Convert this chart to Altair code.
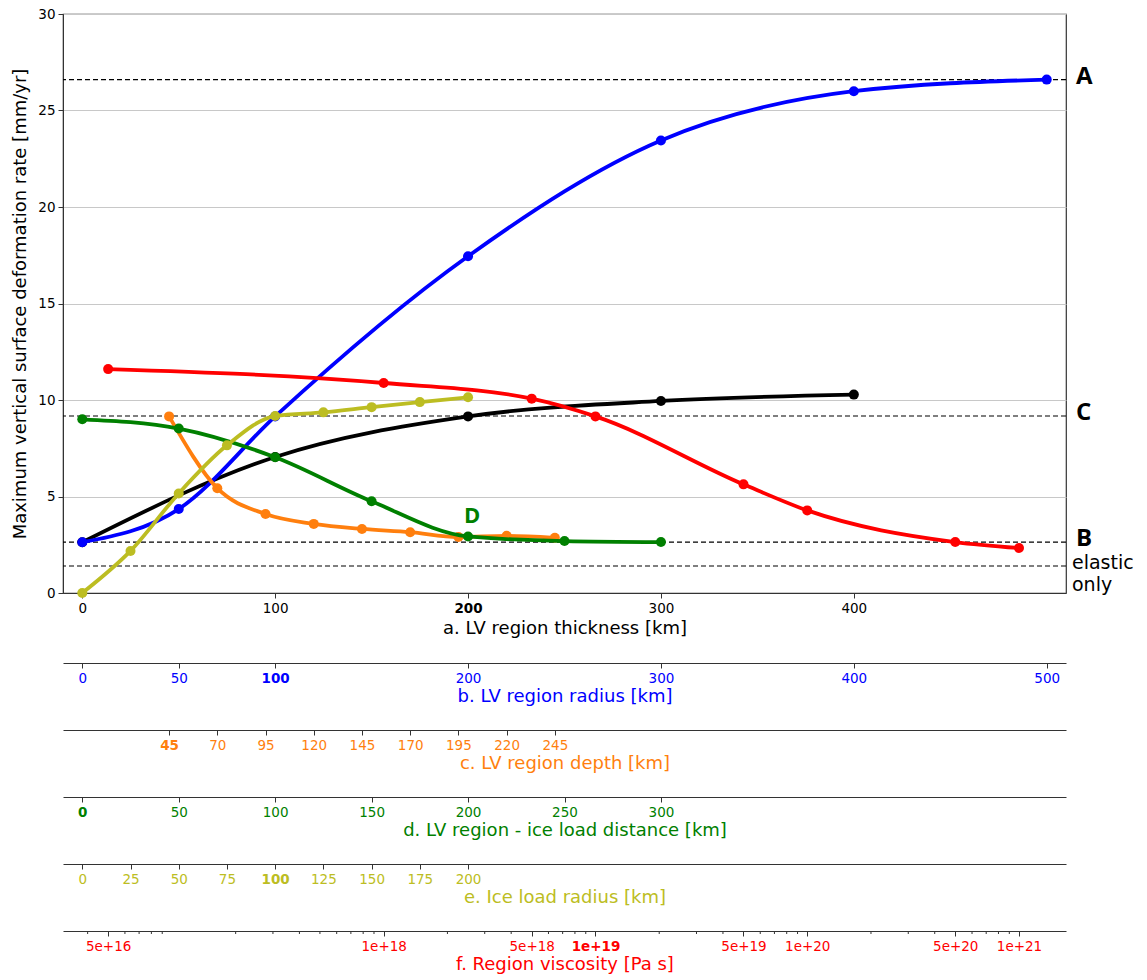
import altair as alt
import pandas as pd

# ---- data -------------------------------------------------------------
# a. LV region thickness (black)
thick_km = [0, 100, 200, 300, 400]
thick_rate = [2.63, 7.05, 9.15, 9.95, 10.28]
# b. LV region radius (blue)
radius_km = [0, 50, 100, 200, 300, 400, 500]
radius_rate = [2.63, 4.35, 9.15, 17.45, 23.45, 26.0, 26.6]
# c. LV region depth (orange)
depth_km = [45, 70, 95, 120, 145, 170, 195, 220, 245]
depth_rate = [9.15, 5.43, 4.09, 3.58, 3.32, 3.15, 2.9, 2.96, 2.86]
# d. LV region - ice load distance (green)
dist_km = [0, 50, 100, 150, 200, 250, 300]
dist_rate = [9.0, 8.52, 7.03, 4.75, 2.93, 2.69, 2.64]
# e. ice load radius (yellow)
ice_km = [0, 25, 50, 75, 100, 125, 150, 175, 200]
ice_rate = [0.0, 2.18, 5.16, 7.65, 9.17, 9.36, 9.63, 9.89, 10.14]
# f. region viscosity (red)
visc_pas = [5e16, 1e18, 5e18, 1e19, 5e19, 1e20, 5e20, 1e21]
visc_rate = [11.6, 10.88, 10.07, 9.15, 5.63, 4.28, 2.64, 2.33]

# reference levels drawn as dashed lines
ref_levels = [26.6, 9.17, 2.64, 1.4]
ref_labels = ["A", "C", "B", "elastic"]

# tick values of the secondary axes
ticks_a = [0, 100, 200, 300, 400]
ticks_b = [0, 50, 100, 200, 300, 400, 500]
ticks_c = [45, 70, 95, 120, 145, 170, 195, 220, 245]
ticks_d = [0, 50, 100, 150, 200, 250, 300]
ticks_e = [0, 25, 50, 75, 100, 125, 150, 175, 200]
ticks_f = [5e16, 1e18, 5e18, 1e19, 5e19, 1e20, 5e20, 1e21]
minor_f = [4e16, 6e16, 7e16, 8e16, 9e16,
           2e17, 3e17, 4e17, 5e17, 6e17, 7e17, 8e17, 9e17,
           2e18, 3e18, 4e18, 6e18, 7e18, 8e18, 9e18,
           2e19, 3e19, 4e19, 6e19, 7e19, 8e19, 9e19,
           2e20, 3e20, 4e20, 6e20, 7e20, 8e20, 9e20]

BLACK = "#000000"
BLUE = "#0000ff"
ORANGE = "#ff7f0e"
GREEN = "#008000"
OLIVE = "#bcbd22"
RED = "#ff0000"

W, H = 1003, 579
FONT = "DejaVu Sans"
LINE_W = 3.8
DOT = 100

x_lin = alt.Scale(domain=[-10, 510], nice=False, zero=False)
x_log = alt.Scale(type="log", domain=[3.06e16, 1.667e21], nice=False)
y_scale = alt.Scale(domain=[0, 30], nice=False, zero=False)

y_enc = alt.Y(
    "rate:Q", scale=y_scale,
    axis=alt.Axis(values=[0, 5, 10, 15, 20, 25, 30], grid=True, gridColor="#c8c8c8",
                  title="Maximum vertical surface deformation rate [mm/yr]",
                  titleFontSize=18, titleFontWeight="normal", titleColor="black",
                  titlePadding=8, labelFontSize=13.5, labelColor="black",
                  tickSize=5, tickColor="#333", domainColor="#333",
                  labelPadding=3, format="d"))


def bold_if(test):
    return {"condition": {"test": test, "value": "bold"}, "value": "normal"}


def series(xs, ys, color, axis=None):
    df = pd.DataFrame({"x": xs, "rate": ys})
    base = alt.Chart(df).encode(x=alt.X("x:Q", scale=x_lin, axis=axis), y=y_enc)
    return alt.layer(
        base.mark_line(interpolate="monotone", color=color, strokeWidth=LINE_W),
        base.mark_circle(color=color, size=DOT, opacity=1),
    )


axis_a = alt.Axis(values=ticks_a, grid=False, title="a. LV region thickness [km]",
                  titleFontSize=18, titleFontWeight="normal", titleColor="black",
                  titlePadding=5, labelFontSize=13.5, labelColor="black",
                  labelFontWeight=bold_if("datum.value == 200"),
                  tickSize=5, tickColor="#333", domainColor="#333",
                  labelPadding=3, labelFlush=False, format="d")

ref_df = pd.DataFrame({"rate": ref_levels, "label": ref_labels})
rules = alt.Chart(ref_df).mark_rule(color="black", strokeDash=[5, 3], strokeWidth=1.2).encode(y=y_enc)
abc = alt.Chart(ref_df[ref_df.label != "elastic"]).mark_text(
    align="left", baseline="middle", fontSize=24, fontWeight="bold", font="Open Sans", color="black",
    dy=-3
).encode(x=alt.value(1013), y=y_enc, text="label:N")
elastic = alt.Chart(ref_df[ref_df.label == "elastic"]).mark_text(
    align="left", baseline="middle", fontSize=19, font=FONT, color="black", dy=-3
).encode(x=alt.value(1009), y=y_enc, text=alt.value("elastic"))
only = alt.Chart(ref_df[ref_df.label == "elastic"]).mark_text(
    align="left", baseline="middle", fontSize=19, font=FONT, color="black", dy=19
).encode(x=alt.value(1009), y=y_enc, text=alt.value("only"))

d_df = pd.DataFrame({"x": [200], "rate": [4.0], "t": ["D"]})
d_label = alt.Chart(d_df).mark_text(
    fontSize=22, fontWeight="bold", font="Open Sans", color=GREEN, baseline="middle", dx=4
).encode(x=alt.X("x:Q", scale=x_lin, axis=None), y=y_enc, text="t:N")

red_df = pd.DataFrame({"visc": visc_pas, "rate": visc_rate})
red_base = alt.Chart(red_df).encode(x=alt.X("visc:Q", scale=x_log, axis=None), y=y_enc)
red = alt.layer(
    red_base.mark_line(interpolate="monotone", color=RED, strokeWidth=LINE_W),
    red_base.mark_circle(color=RED, size=DOT, opacity=1),
)

main = alt.layer(
    rules,
    series(thick_km, thick_rate, BLACK, axis_a),
    series(radius_km, radius_rate, BLUE),
    series(depth_km, depth_rate, ORANGE),
    series(dist_km, dist_rate, GREEN),
    series(ice_km, ice_rate, OLIVE),
    red,
    d_label, abc, elastic, only,
).resolve_scale(x="independent").properties(
    width=W, height=H,
    view=alt.ViewBackground(stroke="#333", strokeWidth=1.2),
)


def strip(values, color, title, bold_test, scale=x_lin, fmt="d", minor=None):
    axis = alt.Axis(values=values, title=title, grid=False, orient="bottom",
                    titleFontSize=18, titleFontWeight="normal", titleColor=color,
                    titlePadding=3, labelFontSize=13.5, labelColor=color,
                    labelFontWeight=bold_if(bold_test), labelOverlap=False,
                    labelFlush=False, labelPadding=3, tickSize=5, tickColor="#333",
                    domainColor="#333", format=fmt)
    df = pd.DataFrame({"v": values})
    layers = [alt.Chart(df).mark_point(opacity=0).encode(
        x=alt.X("v:Q", scale=scale, axis=axis))]
    if minor is not None:
        mdf = pd.DataFrame({"v": minor})
        layers.append(alt.Chart(mdf).mark_rule(color="#333", strokeWidth=1).encode(
            x=alt.X("v:Q", scale=scale, axis=axis),
            y=alt.value(1), y2=alt.value(4)))
    return alt.layer(*layers).properties(
        width=W, height=1, view=alt.ViewBackground(stroke="transparent"))


strip_b = strip(ticks_b, BLUE, "b. LV region radius [km]", "datum.value == 100")
strip_c = strip(ticks_c, ORANGE, "c. LV region depth [km]", "datum.value == 45")
strip_d = strip(ticks_d, GREEN, "d. LV region - ice load distance [km]", "datum.value == 0")
strip_e = strip(ticks_e, OLIVE, "e. Ice load radius [km]", "datum.value == 100")
strip_f = strip(ticks_f, RED, "f. Region viscosity [Pa s]", "datum.value == 1e19",
                scale=x_log, fmt=".0e", minor=minor_f)

chart = alt.vconcat(main, strip_b, strip_c, strip_d, strip_e, strip_f, spacing=20).configure(
    font=FONT
).configure_view(stroke=None).properties(
    background="white",
    padding={"left": 11, "top": 6, "right": 5, "bottom": 5},
)

chart.save("out.html", embed_options={"renderer": "svg", "actions": False})
